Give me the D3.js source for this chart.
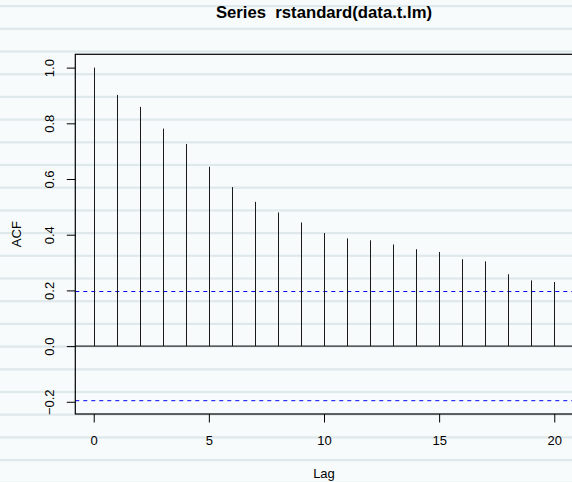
<!DOCTYPE html>
<html>
<head>
<meta charset="utf-8">
<script src="https://cdn.jsdelivr.net/npm/d3@7"></script>
<style>
  html, body { margin: 0; padding: 0; background: #f7fbfb; }
  svg { display: block; }
  text { font-family: "Liberation Sans", Arial, Helvetica, sans-serif; fill: #000; }
</style>
</head>
<body>
<svg id="chart" width="572" height="482"></svg>
<script>
// Autocorrelation of the standardized residuals, lags 0..20
const lags = [0, 1, 2, 3, 4, 5, 6, 7, 8, 9, 10, 11, 12, 13, 14, 15, 16, 17, 18, 19, 20];
const acfValues = [1.000, 0.902, 0.859, 0.781, 0.726, 0.644, 0.571, 0.518, 0.480, 0.444, 0.406,
                   0.387, 0.380, 0.365, 0.348, 0.338, 0.312, 0.304, 0.258, 0.236, 0.230];
const confBound = 0.196;           // 1.96 / sqrt(n), n = 100
const xTicks = [0, 5, 10, 15, 20];
const yTicks = [-0.2, 0.0, 0.2, 0.4, 0.6, 0.8, 1.0];
const titleText = "Series  rstandard(data.t.lm)";

const W = 572, H = 482;
const svg = d3.select("#chart");

// ruled paper background
const bg = svg.append("g");
bg.append("rect").attr("width", W).attr("height", H).attr("fill", "#f7fbfb");
for (let yy = 6; yy < H + 3; yy += 22.7) {
  bg.append("rect").attr("x", 0).attr("y", yy - 1).attr("width", W).attr("height", 2.2)
    .attr("fill", "#dfe8ea");
}

// R-style axis extension: 4% on each side of the data range
const xMin = d3.min(lags), xMax = d3.max(lags);
const xPad = 0.04 * (xMax - xMin);
const yLo = Math.min(-confBound, d3.min(acfValues)), yHi = Math.max(confBound, d3.max(acfValues));
const yPad = 0.04 * (yHi - yLo);

const plot = { left: 75.3, right: 572.7, top: 54.3, bottom: 414 };
const x = d3.scaleLinear().domain([xMin - xPad, xMax + xPad]).range([plot.left, plot.right]);
const y = d3.scaleLinear().domain([yLo - yPad, yHi + yPad]).range([plot.bottom, plot.top]);

// zero line
svg.append("line")
  .attr("x1", plot.left).attr("x2", plot.right)
  .attr("y1", y(0)).attr("y2", y(0))
  .attr("stroke", "#000").attr("stroke-width", 1);

// confidence bounds
svg.selectAll("line.conf").data([confBound, -confBound]).enter().append("line")
  .attr("class", "conf")
  .attr("x1", plot.left).attr("x2", plot.right)
  .attr("y1", d => y(d)).attr("y2", d => y(d))
  .attr("stroke", "#0000ff").attr("stroke-width", 1)
  .attr("stroke-dasharray", "4,4");

// spikes
svg.selectAll("line.spike").data(lags).enter().append("line")
  .attr("class", "spike")
  .attr("x1", d => Math.round(x(d)) + 0.5).attr("x2", d => Math.round(x(d)) + 0.5)
  .attr("y1", y(0)).attr("y2", (d, i) => y(acfValues[i]))
  .attr("stroke", "#1a1a1a").attr("stroke-width", 1);

// plot frame
svg.append("rect")
  .attr("x", plot.left).attr("y", plot.top)
  .attr("width", plot.right - plot.left).attr("height", plot.bottom - plot.top)
  .attr("fill", "none").attr("stroke", "#000").attr("stroke-width", 1.2);

// x axis
const xAxis = svg.append("g")
  .attr("transform", `translate(0,${plot.bottom})`)
  .call(d3.axisBottom(x).tickValues(xTicks).tickSize(8.5).tickPadding(13).tickFormat(d3.format("d")));
xAxis.select(".domain").remove();
xAxis.selectAll(".tick line").attr("stroke", "#000");
xAxis.selectAll("text").attr("font-size", 13).attr("font-family", "Liberation Sans, Arial, sans-serif");

// y axis, labels rotated as in base R graphics
const yAxis = svg.append("g")
  .attr("transform", `translate(${plot.left},0)`)
  .call(d3.axisLeft(y).tickValues(yTicks).tickSize(8.5).tickFormat(d3.format(".1f")));
yAxis.select(".domain").remove();
yAxis.selectAll(".tick line").attr("stroke", "#000");
yAxis.selectAll(".tick text")
  .attr("font-size", 13).attr("font-family", "Liberation Sans, Arial, sans-serif")
  .attr("x", null).attr("dy", null)
  .attr("text-anchor", "middle")
  .attr("transform", "translate(-21,0) rotate(-90)");

// titles
svg.append("text")
  .attr("x", (plot.left + plot.right) / 2).attr("y", 18)
  .attr("text-anchor", "middle")
  .attr("font-weight", "bold").attr("font-size", 16.7)
  .style("white-space", "pre")
  .text(titleText);

svg.append("text")
  .attr("x", (plot.left + plot.right) / 2).attr("y", 478)
  .attr("text-anchor", "middle").attr("font-size", 13)
  .text("Lag");

svg.append("text")
  .attr("transform", `translate(20.5,${(plot.top + plot.bottom) / 2}) rotate(-90)`)
  .attr("text-anchor", "middle").attr("font-size", 13)
  .text("ACF");
</script>
</body>
</html>
